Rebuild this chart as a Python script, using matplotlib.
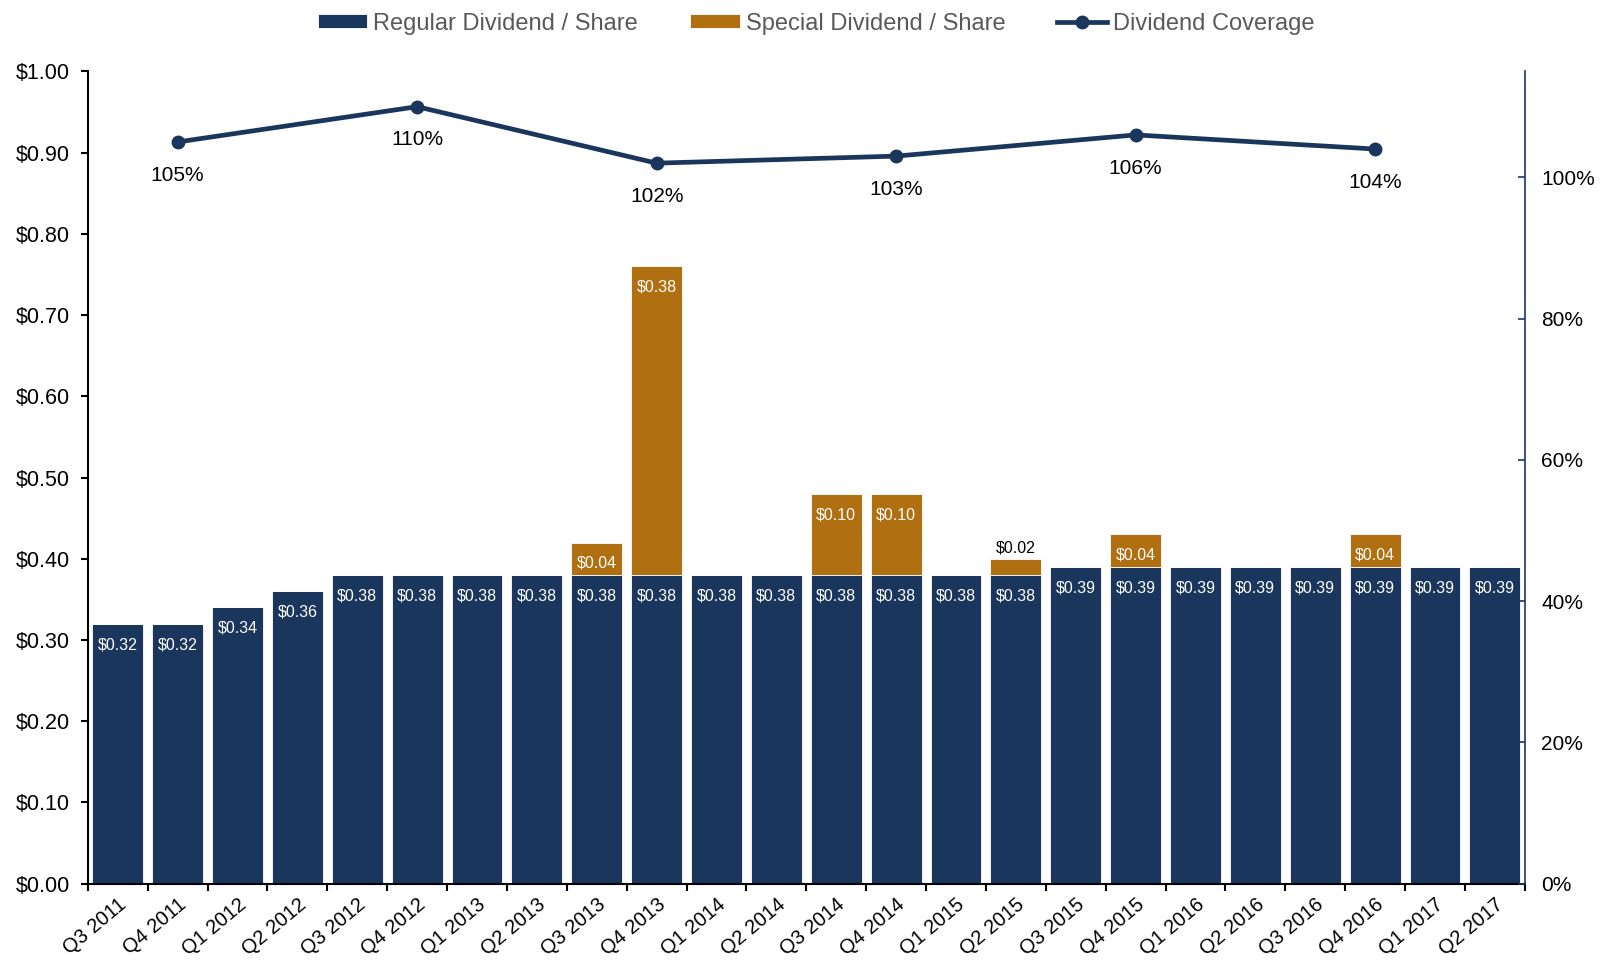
import numpy as np
import matplotlib.pyplot as plt

plt.rcParams['font.family'] = ['Liberation Sans', 'DejaVu Sans']

quarters = ['Q3 2011', 'Q4 2011', 'Q1 2012', 'Q2 2012', 'Q3 2012', 'Q4 2012',
            'Q1 2013', 'Q2 2013', 'Q3 2013', 'Q4 2013', 'Q1 2014', 'Q2 2014',
            'Q3 2014', 'Q4 2014', 'Q1 2015', 'Q2 2015', 'Q3 2015', 'Q4 2015',
            'Q1 2016', 'Q2 2016', 'Q3 2016', 'Q4 2016', 'Q1 2017', 'Q2 2017']
regular = [0.32, 0.32, 0.34, 0.36, 0.38, 0.38, 0.38, 0.38, 0.38, 0.38, 0.38, 0.38,
           0.38, 0.38, 0.38, 0.38, 0.39, 0.39, 0.39, 0.39, 0.39, 0.39, 0.39, 0.39]
special = [0, 0, 0, 0, 0, 0, 0, 0, 0.04, 0.38, 0, 0,
           0.10, 0.10, 0, 0.02, 0, 0.04, 0, 0, 0, 0.04, 0, 0]
coverage_idx = [1, 5, 9, 13, 17, 21]   # Q4 of each year
coverage = [105, 110, 102, 103, 106, 104]

navy = '#1b365d'
orange = '#b06f10'

fig = plt.figure(figsize=(16, 9.64), dpi=100)
ax = fig.add_axes([0.0549, 0.0833, 0.8981, 0.8427])
x = np.arange(len(quarters))
reg = np.array(regular)
spc = np.array(special)

b1 = ax.bar(x, reg, width=0.85, color=navy, edgecolor='white', linewidth=0.6,
            label='Regular Dividend / Share', zorder=2)
b2 = ax.bar(x, spc, width=0.85, bottom=reg, color=orange, edgecolor='white',
            linewidth=0.6, label='Special Dividend / Share', zorder=2)

# labels inside the bars
for i in range(len(x)):
    ax.annotate('$%.2f' % reg[i], (x[i], reg[i]), xytext=(0, -15),
                textcoords='offset points', ha='center', va='center',
                color='white', fontsize=11.5)
    if spc[i] > 0:
        top = reg[i] + spc[i]
        if spc[i] < 0.03:
            ax.annotate('$%.2f' % spc[i], (x[i], top), xytext=(0, 2),
                        textcoords='offset points', ha='center', va='bottom',
                        color='black', fontsize=11.5)
        else:
            ax.annotate('$%.2f' % spc[i], (x[i], top), xytext=(0, -15),
                        textcoords='offset points', ha='center', va='center',
                        color='white', fontsize=11.5)

ax.set_xlim(-0.5, len(x) - 0.5)
ax.set_ylim(0, 1.0)
ax.set_yticks(np.arange(0, 1.01, 0.1))
ax.set_yticklabels(['$%.2f' % v for v in np.arange(0, 1.01, 0.1)], fontsize=15.5)
ax.set_xticks(x)
ax.set_xticklabels(quarters, rotation=40, ha='right', va='top',
                   rotation_mode='anchor', fontsize=14.5)
ax.set_xticks(np.arange(-0.5, len(x), 1), minor=True)
ax.tick_params(axis='x', which='major', length=0, pad=8)
ax.tick_params(axis='x', which='minor', length=5, width=1.5, direction='out')
ax.tick_params(axis='y', length=5, width=1.5, direction='out', pad=8)
ax.spines['top'].set_visible(False)
ax.spines['right'].set_visible(False)
ax.spines['left'].set_linewidth(1.5)
ax.spines['bottom'].set_linewidth(1.5)

ax2 = ax.twinx()
ln, = ax2.plot(coverage_idx, np.array(coverage) / 100, color=navy, lw=3.4,
               marker='o', markersize=9, label='Dividend Coverage', zorder=3)
for i, v in zip(coverage_idx, coverage):
    ax2.annotate('%d%%' % v, (i, v / 100), xytext=(0, -24),
                 textcoords='offset points', ha='center', va='center',
                 fontsize=15)
ax2.set_ylim(0, 1.15)
ax2.set_yticks([0, 0.2, 0.4, 0.6, 0.8, 1.0])
ax2.set_yticklabels(['0%', '20%', '40%', '60%', '80%', '100%'], fontsize=15)
ax2.tick_params(axis='y', length=5, width=1.2, direction='in', pad=12,
                color=navy)
for s in ['top', 'left', 'bottom']:
    ax2.spines[s].set_visible(False)
ax2.spines['right'].set_color(navy)
ax2.spines['right'].set_linewidth(1.2)

leg = fig.legend(handles=[b1, b2, ln], loc='upper center',
                 bbox_to_anchor=(0.51, 1.009), ncol=3, frameon=False,
                 fontsize=17, handlelength=2.1, handleheight=0.5,
                 handletextpad=0.25, columnspacing=2.2)
for t in leg.get_texts():
    t.set_color('#595959')

fig.savefig('out.png', dpi=100)
